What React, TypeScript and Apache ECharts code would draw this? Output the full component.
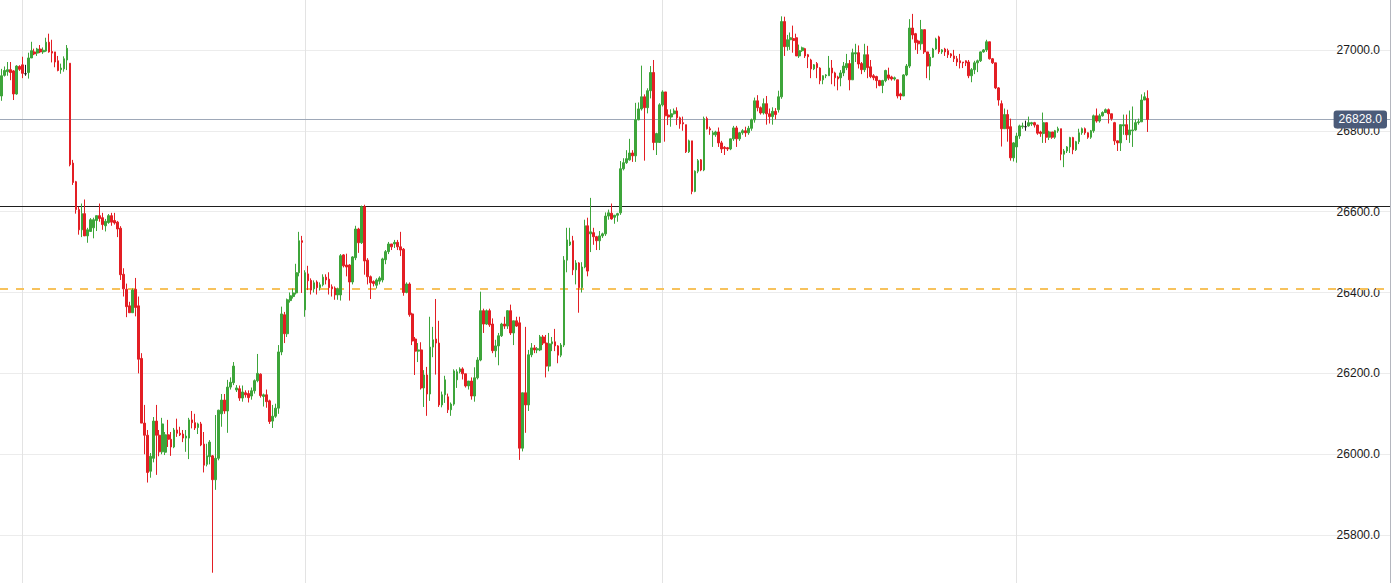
import React, { useEffect, useRef } from "react";
import * as echarts from "echarts";

// Each candle: [open, close, low, high]
const CANDLES: number[][] = [
  [26886,26936,26874,26953],[26937,26949,26934,26959],[26946,26951,26936,26970],[26951,26944,26925,26970],
  [26948,26891,26876,26950],[26891,26960,26889,26962],[26959,26952,26948,26962],[26963,26942,26930,26983],
  [26941,26941,26936,26963],[26944,26980,26929,26993],[26980,26998,26980,27020],[26995,26990,26987,27003],
  [26992,27002,26985,27005],[27002,26995,26992,27012],[26995,26999,26990,27006],[26997,27019,26995,27030],
  [27019,26995,26993,27040],[26996,26992,26969,27025],[26995,26970,26957,26995],[26973,26949,26947,26985],
  [26951,26955,26941,26966],[26953,26978,26946,26984],[26975,27004,26950,27012],[26967,26716,26712,26967],
  [26720,26672,26666,26728],[26674,26605,26595,26676],[26605,26555,26543,26612],[26555,26595,26537,26620],
  [26595,26540,26540,26630],[26540,26555,26523,26560],[26551,26580,26550,26584],[26560,26580,26534,26585],
  [26578,26590,26552,26590],[26590,26583,26575,26620],[26585,26568,26555,26597],[26565,26576,26551,26582],
  [26573,26590,26570,26594],[26590,26574,26565,26597],[26578,26572,26568,26597],[26574,26557,26537,26577],
  [26559,26444,26431,26564],[26445,26409,26390,26460],[26408,26365,26339,26422],[26367,26350,26350,26377],
  [26350,26406,26350,26410],[26408,26363,26341,26436],[26367,26235,26200,26390],[26237,26077,26077,26250],
  [26077,26047,26000,26122],[26047,25955,25930,26060],[25958,25995,25942,26003],[25990,26082,25980,26092],
  [26082,26047,25949,26122],[26047,26006,25995,26060],[26006,26075,26000,26090],[26005,26048,25998,26055],
  [26048,26037,26018,26085],[26037,26018,25996,26055],[26018,26060,26015,26065],[26060,26052,26043,26088],
  [26052,26048,26045,26068],[26050,26040,26030,26060],[26040,26045,26006,26060],[26040,26085,25988,26090],
  [26085,26078,26064,26107],[26078,26065,26060,26100],[26066,26075,26050,26078],[26075,26023,26020,26080],
  [26025,25973,25955,26055],[25975,25996,25970,26026],[25994,26030,25975,26035],[25996,25937,25707,25998],
  [25937,25990,25912,26097],[25990,26109,25985,26110],[26100,26134,26068,26149],[26134,26107,26100,26149],
  [26107,26166,26053,26184],[26166,26178,26160,26190],[26177,26218,26171,26228],[26159,26164,26154,26171],
  [26162,26139,26132,26170],[26139,26154,26130,26170],[26152,26147,26140,26158],[26150,26140,26128,26158],
  [26144,26157,26135,26165],[26157,26182,26150,26185],[26182,26200,26178,26248],[26198,26145,26140,26200],
  [26143,26147,26118,26150],[26147,26130,26115,26160],[26132,26081,26075,26135],[26082,26094,26065,26122],
  [26094,26114,26090,26125],[26114,26253,26100,26270],[26253,26347,26245,26365],[26345,26298,26275,26352],
  [26298,26382,26290,26385],[26380,26392,26375,26400],[26390,26399,26385,26410],[26399,26449,26395,26471],
  [26449,26528,26440,26550],[26528,26524,26399,26540],[26357,26449,26340,26455],[26446,26429,26406,26466],
  [26430,26406,26395,26435],[26409,26424,26400,26430],[26426,26412,26395,26430],[26412,26419,26405,26425],
  [26419,26438,26415,26445],[26438,26431,26420,26445],[26433,26412,26395,26450],[26414,26409,26390,26420],
  [26411,26394,26382,26415],[26394,26409,26382,26412],[26394,26491,26380,26495],[26493,26466,26462,26495],
  [26468,26463,26440,26496],[26468,26426,26380,26470],[26426,26488,26420,26490],[26486,26557,26480,26565],
  [26557,26523,26498,26560],[26523,26612,26520,26615],[26612,26478,26444,26617],[26480,26439,26420,26485],
  [26439,26424,26384,26442],[26427,26422,26415,26430],[26418,26431,26410,26435],[26428,26436,26420,26440],
  [26431,26483,26425,26486],[26481,26501,26470,26505],[26501,26520,26495,26525],[26520,26513,26505,26520],
  [26520,26524,26510,26530],[26524,26513,26505,26530],[26513,26505,26490,26550],[26507,26400,26392,26510],
  [26400,26421,26398,26425],[26421,26345,26340,26425],[26347,26280,26270,26350],[26285,26255,26196,26290],
  [26255,26258,26228,26275],[26258,26164,26160,26277],[26164,26196,26117,26208],[26196,26149,26095,26216],
  [26149,26265,26132,26340],[26265,26283,26240,26315],[26285,26275,26197,26384],[26275,26122,26117,26330],
  [26122,26147,26116,26155],[26147,26184,26127,26194],[26142,26110,26102,26150],[26110,26124,26095,26128],
  [26124,26206,26120,26210],[26184,26204,26164,26210],[26204,26211,26200,26215],[26211,26199,26185,26215],
  [26199,26169,26165,26199],[26169,26181,26160,26181],[26181,26144,26135,26190],[26144,26189,26130,26215],
  [26189,26233,26185,26240],[26233,26355,26230,26402],[26355,26322,26300,26360],[26322,26355,26320,26358],
  [26355,26320,26315,26360],[26322,26256,26250,26336],[26256,26268,26240,26283],[26268,26293,26220,26300],
  [26293,26322,26290,26325],[26322,26317,26310,26340],[26317,26355,26310,26356],[26355,26300,26295,26370],
  [26300,26330,26270,26330],[26330,26317,26315,26340],[26325,26015,25986,26340],[26015,26152,26007,26152],
  [26152,26122,26053,26315],[26122,26246,26107,26258],[26246,26263,26240,26275],[26263,26258,26250,26270],
  [26258,26261,26250,26265],[26258,26290,26255,26295],[26290,26275,26270,26295],[26275,26218,26190,26295],
  [26218,26273,26205,26300],[26273,26278,26255,26290],[26278,26268,26255,26310],[26268,26245,26225,26270],
  [26245,26270,26240,26275],[26270,26480,26265,26490],[26480,26530,26450,26560],[26518,26525,26515,26560],
  [26528,26456,26443,26540],[26456,26473,26420,26480],[26473,26412,26350,26475],[26412,26463,26400,26475],
  [26463,26565,26460,26580],[26565,26453,26440,26585],[26545,26550,26500,26634],[26548,26538,26518,26560],
  [26538,26528,26505,26540],[26528,26540,26505,26552],[26540,26545,26535,26548],[26545,26589,26540,26598],
  [26589,26597,26580,26605],[26596,26582,26580,26620],[26586,26591,26570,26592],[26591,26595,26575,26597],
  [26597,26706,26592,26725],[26706,26721,26702,26732],[26721,26731,26718,26752],[26728,26745,26726,26780],
  [26745,26738,26723,26752],[26738,26827,26723,26869],[26827,26854,26826,26870],[26854,26884,26850,26961],
  [26884,26857,26726,26890],[26857,26899,26843,26905],[26899,26944,26880,26960],[26944,26771,26752,26975],
  [26771,26793,26740,26795],[26771,26864,26770,26868],[26864,26896,26860,26900],[26896,26837,26773,26896],
  [26839,26834,26814,26853],[26834,26842,26810,26853],[26842,26849,26840,26855],[26849,26832,26814,26858],
  [26832,26817,26805,26835],[26820,26817,26800,26835],[26815,26748,26745,26815],[26748,26775,26745,26778],
  [26775,26650,26643,26775],[26650,26700,26648,26702],[26700,26726,26695,26730],[26728,26703,26700,26730],
  [26703,26830,26700,26835],[26830,26805,26803,26835],[26805,26802,26790,26810],[26790,26795,26760,26800],
  [26790,26797,26785,26800],[26797,26770,26760,26808],[26770,26755,26745,26775],[26759,26756,26740,26762],
  [26758,26755,26750,26760],[26755,26780,26752,26780],[26780,26807,26775,26812],[26807,26780,26760,26812],
  [26780,26795,26775,26797],[26795,26800,26790,26804],[26800,26795,26785,26810],[26795,26806,26790,26812],
  [26806,26827,26800,26830],[26827,26874,26820,26882],[26874,26857,26848,26888],[26857,26844,26840,26860],
  [26844,26867,26840,26880],[26867,26842,26815,26886],[26842,26835,26818,26855],[26835,26848,26815,26858],
  [26848,26840,26828,26856],[26852,26884,26845,26899],[26884,27070,26879,27083],[27070,27008,26985,27082],
  [27008,27025,26998,27037],[27025,27030,27000,27043],[27028,27023,26993,27060],[27030,26985,26985,27040],
  [26985,26998,26980,27013],[26998,27005,26995,27008],[27003,26985,26980,27005],[26988,26983,26955,26990],
  [26975,26953,26930,26978],[26953,26963,26950,26965],[26966,26956,26930,26970],[26955,26924,26915,26957],
  [26926,26936,26915,26937],[26936,26938,26930,26940],[26936,26955,26936,26985],[26955,26943,26915,26975],
  [26943,26931,26910,26946],[26933,26928,26900,26936],[26931,26943,26910,26950],[26943,26960,26935,26970],
  [26956,26966,26950,26990],[26966,26926,26900,26975],[26926,26993,26926,27003],[26990,26993,26970,27015],
  [26993,26965,26954,27011],[26966,26951,26940,26970],[26951,26988,26945,27015],[26988,26956,26930,27010],
  [26958,26934,26930,26975],[26936,26931,26925,26940],[26934,26924,26905,26936],[26924,26912,26910,26926],
  [26912,26924,26893,26926],[26924,26949,26920,26951],[26938,26930,26925,26956],[26933,26928,26924,26936],
  [26928,26931,26924,26934],[26926,26886,26880,26926],[26891,26886,26876,26894],[26886,26938,26886,26940],
  [26938,26960,26935,26965],[26960,27054,26955,27076],[27054,27037,27026,27089],[27040,27018,27000,27042],
  [27022,27015,26990,27025],[27015,27050,27000,27074],[27050,26995,26990,27050],[26995,26960,26930,26995],
  [26960,26982,26925,26990],[26982,27002,26980,27005],[27002,27027,27000,27030],[27032,26995,26990,27035],
  [26995,27000,26990,27002],[27002,26995,26985,27005],[26998,26988,26980,27003],[26990,26985,26980,26992],
  [26985,26978,26970,27000],[26978,26970,26960,26985],[26973,26968,26954,26990],[26970,26968,26955,26970],
  [26973,26968,26960,26974],[26970,26936,26930,26975],[26936,26951,26920,26955],[26951,26968,26940,26973],
  [26968,26973,26945,26976],[26973,26995,26970,26996],[26995,27000,26993,27002],[27000,27020,26995,27025],
  [27020,26978,26976,27020],[26978,26968,26965,26980],[26968,26906,26903,26968],[26906,26876,26862,26908],
  [26867,26805,26761,26875],[26805,26840,26805,26855],[26840,26805,26773,26852],[26810,26733,26726,26830],
  [26733,26770,26724,26772],[26760,26787,26721,26795],[26787,26812,26780,26815],[26810,26812,26805,26820],
  [26810,26810,26800,26825],[26812,26820,26810,26835],[26817,26820,26812,26822],[26820,26814,26808,26822],
  [26814,26794,26790,26815],[26797,26793,26785,26800],[26793,26820,26770,26845],[26820,26784,26770,26820],
  [26784,26797,26777,26800],[26797,26784,26780,26797],[26784,26800,26780,26802],[26800,26805,26795,26810],
  [26805,26742,26727,26805],[26742,26750,26710,26755],[26750,26760,26745,26762],[26760,26783,26745,26785],
  [26783,26753,26742,26785],[26753,26773,26750,26775],[26773,26795,26767,26805],[26795,26805,26790,26808],
  [26805,26795,26790,26808],[26795,26784,26780,26796],[26784,26800,26780,26802],[26800,26837,26795,26840],
  [26837,26824,26820,26855],[26824,26837,26820,26842],[26837,26845,26835,26848],[26845,26852,26845,26855],
  [26852,26842,26818,26855],[26842,26830,26825,26842],[26820,26775,26765,26822],[26775,26770,26750,26776],
  [26770,26815,26750,26815],[26812,26815,26790,26840],[26815,26790,26777,26840],[26790,26802,26770,26850],
  [26800,26802,26760,26860],[26802,26820,26800,26828],[26820,26822,26815,26830],[26822,26876,26822,26890],
  [26876,26884,26876,26895],[26880,26828,26797,26900],
];

// Category slots on the time axis (visible candles plus empty room on the right)
const SLOT_COUNT = 467;
const SLOTS: string[] = Array.from({ length: SLOT_COUNT }, (_, i) => String(i));

// Y axis
const Y_MIN = 25600;
const Y_MAX = 27200;
const Y_STEP = 200;

// Horizontal levels
const LAST_PRICE = 26828;
const BLACK_LEVEL = 26614;
const ORANGE_LEVEL = 26409;

// Vertical separators (slot indices)
const V_LINES = [7, 102, 222, 341];

const GREEN = "#3da53a";
const RED = "#e31e24";

export default function App() {
  const ref = useRef<HTMLDivElement>(null);

  useEffect(() => {
    document.body.style.margin = "0";
    if (!ref.current) return;
    const chart = echarts.init(ref.current, null, { renderer: "svg" });

    const vLines = V_LINES.map((idx) => ({
      xAxis: idx,
      lineStyle: { color: "#e3e3e3", width: 1, type: "solid" as const },
      label: { show: false },
    }));

    chart.setOption({
      animation: false,
      backgroundColor: "#ffffff",
      grid: { left: 0, right: 5, top: 0, bottom: 0, containLabel: false },
      xAxis: {
        type: "category",
        data: SLOTS,
        boundaryGap: true,
        axisLine: { show: false },
        axisTick: { show: false },
        axisLabel: { show: false },
        splitLine: { show: false },
      },
      yAxis: {
        type: "value",
        position: "right",
        min: Y_MIN,
        max: Y_MAX,
        interval: Y_STEP,
        axisLine: { show: true, lineStyle: { color: "#b4b6be", width: 1 } },
        axisTick: { show: false },
        axisLabel: {
          inside: true,
          margin: 10,
          color: "#1a1a1a",
          fontSize: 12,
          fontFamily: "'Liberation Sans', Arial, sans-serif",
          showMinLabel: false,
          showMaxLabel: false,
          formatter: (v: number) => v.toFixed(1),
        },
        splitLine: { show: true, lineStyle: { color: "#ececec", width: 1 } },
      },
      series: [
        {
          type: "candlestick",
          data: CANDLES,
          barWidth: 2.2,
          itemStyle: {
            color: GREEN,
            color0: RED,
            borderColor: GREEN,
            borderColor0: RED,
            borderColorDoji: "#1a1a1a",
            borderWidth: 1,
          },
          markLine: {
            silent: true,
            z: 1,
            animation: false,
            symbol: ["none", "none"],
            data: [
              ...vLines,
              {
                yAxis: ORANGE_LEVEL,
                lineStyle: { color: "#f7c25c", width: 2, type: [8, 8] },
                label: { show: false },
              },
              {
                yAxis: BLACK_LEVEL,
                lineStyle: { color: "#1e1e1e", width: 1, type: "solid" },
                label: { show: false },
              },
              {
                yAxis: LAST_PRICE,
                lineStyle: { color: "#9ea8b8", width: 1, type: "solid" },
                label: {
                  show: true,
                  position: "insideEnd",
                  distance: 3,
                  formatter: LAST_PRICE.toFixed(1),
                  backgroundColor: "#4b5b79",
                  color: "#ffffff",
                  padding: [3, 5, 3, 5],
                  borderRadius: 3,
                  fontSize: 12,
                  fontFamily: "'Liberation Sans', Arial, sans-serif",
                },
              },
            ],
          },
        },
      ],
    });

    return () => chart.dispose();
  }, []);

  return (
    <div style={{ position: "relative", width: 1395, height: 583, overflow: "hidden" }}>
      <div ref={ref} style={{ position: "absolute", left: 0, top: -31, width: 1395, height: 647 }} />
    </div>
  );
}
